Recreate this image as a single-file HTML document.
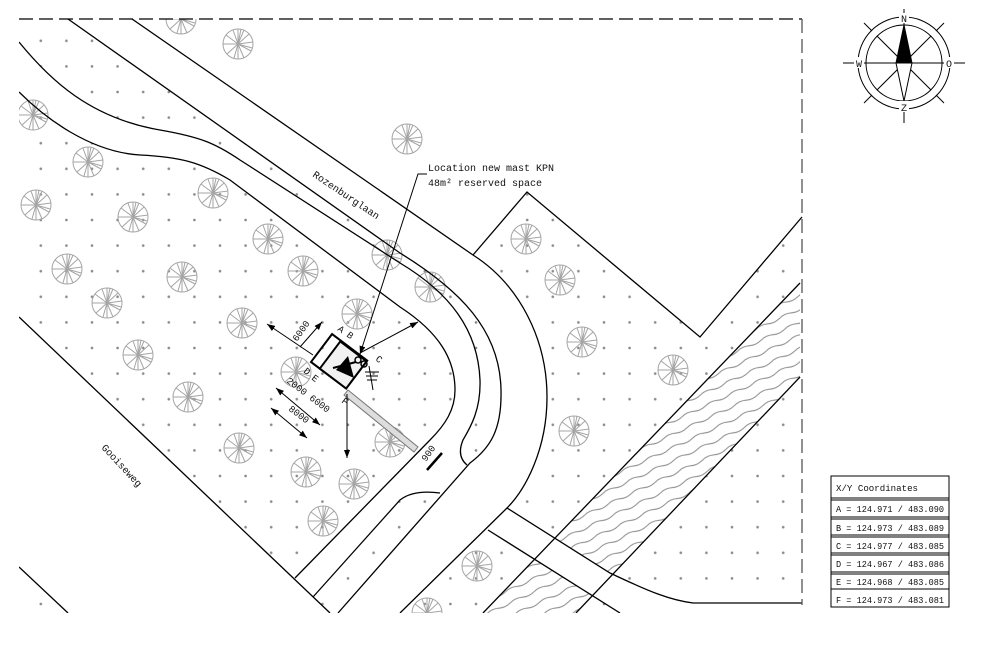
<!DOCTYPE html>
<html><head><meta charset="utf-8"><style>
html,body{margin:0;padding:0;background:#fff;}
svg{display:block;}
text{font-family:"Liberation Mono","DejaVu Sans Mono",monospace;fill:#111;}
</style></head><body>
<svg width="994" height="666" viewBox="0 0 994 666" xmlns="http://www.w3.org/2000/svg">
<defs>
<pattern id="dots" patternUnits="userSpaceOnUse" x="28" y="28" width="25.6" height="25.6">
<circle cx="12.8" cy="12.8" r="1.3" fill="#8a8a8a"/>
</pattern>
<pattern id="wave" patternUnits="userSpaceOnUse" width="26" height="12" patternTransform="rotate(-25)">
<path d="M0,6 Q6.5,3.5 13,6 T26,6" fill="none" stroke="#8a8a8a" stroke-width="1"/>
</pattern>
<clipPath id="frame"><rect x="19" y="19" width="784" height="594"/></clipPath>
<g id="tree" fill="none" stroke="#a5a5a5" stroke-width="1">
<circle r="15"/>
<path d="M0,0L0,-15M0,0L6,-14M0,0L11,-10M0,0L15,-2M0,0L13,7M0,0L6,14M0,0L0,15M0,0L-4,14M0,0L-11,10M0,0L-15,0M0,0L-12,-9M0,0L-5,-14M0,0L3,-15M0,0L14,4"/>
</g>
<marker id="ar" markerWidth="8" markerHeight="6" refX="8" refY="3" orient="auto" markerUnits="userSpaceOnUse"><path d="M0,0L8,3L0,6Z" fill="#000"/></marker>
<marker id="ars" markerWidth="8" markerHeight="6" refX="0" refY="3" orient="auto" markerUnits="userSpaceOnUse"><path d="M8,0L0,3L8,6Z" fill="#000"/></marker>
</defs>

<g clip-path="url(#frame)">
<g fill="url(#dots)">
<path d="M19,19 L68,19 L400,253 C460,290 500,330 501,390 C502,430 490,448 470,463 L467,465 C461,460 458,452 463,440 C470,428 481,410 480,380 C478,330 450,293 400,263 L240,160 C215,143 200,137 160,130 C90,118 50,80 19,42 Z"/>
<path d="M19,92 C45,118 90,152 140,155 C180,157 200,162 230,180 L400,307 C440,333 455,360 455,390 C455,410 445,425 430,440 L295,578 L19,317 Z"/>
<path d="M400,500 C410,492 425,491 440,493 L338,613 L330,613 L313,597 Z"/>
<path d="M473,255 L527,192 L700,337 L802,217 L802,603 L693,603 C670,600 650,592 610,573 L507,508 C525,490 547,450 547,397 C547,340 520,285 473,255 Z"/>
<path d="M488,530 L620,613 L400,613 Z"/>
<path d="M19,567 L68,613 L19,613 Z"/>
</g>

<path d="M483,613 L800,283 L800,377 L576,613 Z" fill="#fff"/>
<path d="M483,613 L800,283 L800,377 L576,613 Z" fill="url(#wave)"/>
<path d="M507,508 L610,573 C650,592 670,600 693,603 L802,603 L802,613 L620,613 L488,530 Z" fill="#fff"/>

<g>
<use href="#tree" x="181" y="19"/><use href="#tree" x="238" y="44"/><use href="#tree" x="33" y="115"/>
<use href="#tree" x="88" y="162"/><use href="#tree" x="213" y="193"/><use href="#tree" x="36" y="205"/>
<use href="#tree" x="133" y="217"/><use href="#tree" x="268" y="239"/><use href="#tree" x="67" y="269"/>
<use href="#tree" x="407" y="139"/><use href="#tree" x="182" y="277"/><use href="#tree" x="107" y="303"/>
<use href="#tree" x="303" y="271"/><use href="#tree" x="387" y="255"/><use href="#tree" x="430" y="287"/>
<use href="#tree" x="357" y="314"/><use href="#tree" x="242" y="323"/><use href="#tree" x="138" y="355"/>
<use href="#tree" x="188" y="397"/><use href="#tree" x="239" y="448"/><use href="#tree" x="296" y="372"/>
<use href="#tree" x="306" y="472"/><use href="#tree" x="354" y="484"/><use href="#tree" x="323" y="521"/>
<use href="#tree" x="390" y="442"/><use href="#tree" x="477" y="566"/><use href="#tree" x="427" y="613"/>
<use href="#tree" x="526" y="239"/><use href="#tree" x="560" y="280"/><use href="#tree" x="582" y="342"/>
<use href="#tree" x="673" y="370"/><use href="#tree" x="574" y="431"/>
</g>

<g fill="none" stroke="#000" stroke-width="1.3">
<path d="M132,19 L473,255 C520,285 547,340 547,397 C547,450 525,490 507,508 L400,613"/>
<path d="M68,19 L400,253 C460,290 500,330 501,390 C502,430 490,448 470,463 L338,613"/>
<path d="M19,42 C50,80 90,118 160,130 C200,137 215,143 240,160 L400,263 C450,293 478,330 480,380 C481,410 470,428 463,440 C458,452 461,460 467,465"/>
<path d="M19,92 C45,118 90,152 140,155 C180,157 200,162 230,180 L400,307 C440,333 455,360 455,390 C455,410 445,425 430,440 L295,578"/>
<path d="M19,317 L330,613"/>
<path d="M19,567 L68,613"/>
<path d="M313,597 L400,500 C410,492 425,491 440,493"/>
<path d="M473,255 L527,192 L700,337 L802,217"/>
<path d="M507,508 L610,573 C650,592 670,600 693,603 L802,603"/>
<path d="M488,530 L620,613"/>
<path d="M483,613 L800,283"/>
<path d="M576,613 L800,377"/>
</g>
</g>

<line x1="19" y1="19" x2="802" y2="19" stroke="#000" stroke-width="1.3" stroke-dasharray="14,6"/>
<line x1="802" y1="19" x2="802" y2="605" stroke="#555" stroke-width="1.3" stroke-dasharray="14,6"/>

<text x="0" y="0" font-size="10" transform="translate(312,176) rotate(34)">Rozenburglaan</text>
<text x="0" y="0" font-size="10" transform="translate(101,448) rotate(47)">Gooiseweg</text>

<text x="428" y="171" font-size="10">Location new mast KPN</text>
<text x="428" y="186" font-size="10">48m² reserved space</text>
<path d="M427,174 L418,174 L360,354" fill="none" stroke="#000" stroke-width="1" marker-end="url(#ar)"/>

<path d="M348,390 L418,447 L414,452 L344,395 Z" fill="#ddd" stroke="#777" stroke-width="1"/>

<g transform="translate(311,362) rotate(37)" fill="none" stroke="#000" stroke-width="2">
<rect x="0" y="-35" width="44" height="35" fill="none"/>
<rect x="11" y="-34" width="33" height="34" fill="#f1f1f1" stroke-width="2"/>
</g>
<path d="M336,370 L348,356 L354,378 Z" fill="#000"/>
<path d="M333,368 L356,362" stroke="#000" stroke-width="2"/>
<circle cx="358" cy="360" r="3" fill="none" stroke="#000" stroke-width="1.5"/>
<circle cx="364" cy="364" r="3" fill="none" stroke="#000" stroke-width="1.5"/>
<path d="M369,366 L373,390 M365,372 L379,372 M366,376 L378,376 M367,380 L377,380" stroke="#000" stroke-width="1" fill="none"/>

<g stroke="#000" stroke-width="1" fill="none">
<path d="M267,324 L313,355" marker-start="url(#ars)"/>
<path d="M300,347 L322,322" marker-end="url(#ar)"/>
<path d="M360,353 L418,322" marker-end="url(#ar)"/>
<path d="M347,394 L347,458" marker-end="url(#ar)"/>
<path d="M276,388 L320,425" marker-start="url(#ars)" marker-end="url(#ar)"/>
<path d="M271,408 L307,438" marker-start="url(#ars)" marker-end="url(#ar)"/>
</g>
<line x1="427" y1="470" x2="442" y2="453" stroke="#000" stroke-width="2.5"/>
<g font-size="9.5">
<text transform="translate(297,342) rotate(-55)">6000</text>
<text transform="translate(286,382) rotate(37)">2000 6000</text>
<text transform="translate(288,410) rotate(37)">8000</text>
<text transform="translate(426,462) rotate(-55)">900</text>
<text transform="translate(337,330) rotate(37)">A</text>
<text transform="translate(346,336) rotate(37)">B</text>
<text transform="translate(375,360) rotate(37)">C</text>
<text transform="translate(303,372) rotate(37)">D</text>
<text transform="translate(311,379) rotate(37)">E</text>
<text transform="translate(341,402) rotate(37)">F</text>
</g>

<g stroke="#000" stroke-width="1" fill="none">
<circle cx="904" cy="63" r="46"/>
<circle cx="904" cy="63" r="38"/>
<line x1="843" y1="63" x2="965" y2="63"/>
<line x1="904" y1="9" x2="904" y2="123"/>
<line x1="877" y1="36" x2="931" y2="90"/>
<line x1="931" y1="36" x2="877" y2="90"/>
<line x1="936" y1="31" x2="944" y2="23"/>
<line x1="872" y1="31" x2="864" y2="23"/>
<line x1="936" y1="95" x2="944" y2="103"/>
<line x1="872" y1="95" x2="864" y2="103"/>
<path d="M904,25 L896,63 L912,63 Z" fill="#000"/>
<path d="M896,63 L904,101 L912,63 Z" fill="#fff"/>
</g>
<g font-size="10" text-anchor="middle">
<rect x="899" y="13" width="10" height="10" fill="#fff"/>
<rect x="854" y="57" width="10" height="11" fill="#fff"/>
<rect x="944" y="57" width="10" height="11" fill="#fff"/>
<rect x="899" y="101" width="10" height="11" fill="#fff"/>
<text x="904" y="22">N</text>
<text x="859" y="67">W</text>
<text x="949" y="67">O</text>
<text x="904" y="111">Z</text>
</g>

<g stroke="#000" stroke-width="1" fill="#fff">
<rect x="831" y="476" width="118" height="131"/>
<rect x="831" y="476" width="118" height="22"/>
<rect x="831" y="500" width="118" height="17"/>
<rect x="831" y="519" width="118" height="16"/>
<rect x="831" y="537" width="118" height="16"/>
<rect x="831" y="555" width="118" height="17"/>
<rect x="831" y="574" width="118" height="15"/>
</g>
<g font-size="9">
<text x="836" y="491" textLength="82" lengthAdjust="spacingAndGlyphs">X/Y Coordinates</text>
<text x="836" y="512" textLength="108" lengthAdjust="spacingAndGlyphs">A = 124.971  / 483.090</text>
<text x="836" y="531" textLength="108" lengthAdjust="spacingAndGlyphs">B = 124.973  / 483.089</text>
<text x="836" y="549" textLength="108" lengthAdjust="spacingAndGlyphs">C = 124.977  / 483.085</text>
<text x="836" y="567" textLength="108" lengthAdjust="spacingAndGlyphs">D = 124.967  / 483.086</text>
<text x="836" y="585" textLength="108" lengthAdjust="spacingAndGlyphs">E = 124.968  / 483.085</text>
<text x="836" y="603" textLength="108" lengthAdjust="spacingAndGlyphs">F = 124.973  / 483.081</text>
</g>
</svg>
</body></html>
